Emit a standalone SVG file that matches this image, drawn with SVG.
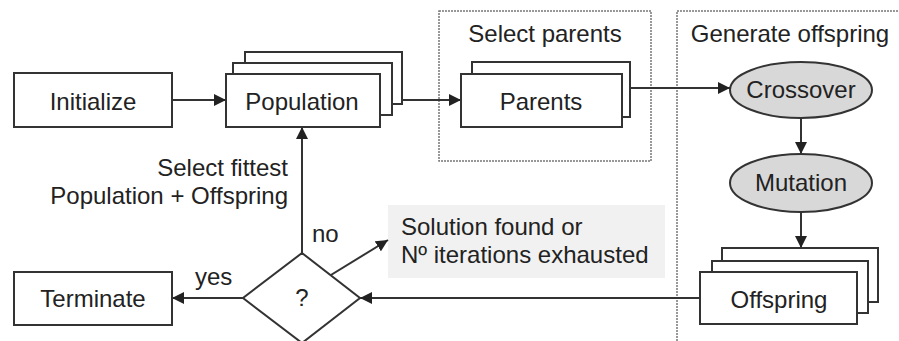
<svg xmlns="http://www.w3.org/2000/svg" width="899" height="341" viewBox="0 0 899 341">
<style>
text{font-family:"Liberation Sans",Arial,sans-serif;font-size:24px;fill:#222}
.c{text-anchor:middle}
.box{fill:#fff;stroke:#333;stroke-width:2}
.ell{fill:#d8d8d8;stroke:#333;stroke-width:2}
.grp{fill:none;stroke:#777;stroke-width:1.5;stroke-dasharray:2 1}
.ln{fill:none;stroke:#333;stroke-width:2}
</style>
<defs>
<marker id="ah" viewBox="0 0 10 10" refX="10" refY="5" markerWidth="6" markerHeight="6" orient="auto" markerUnits="strokeWidth">
<path d="M0,0 L10,5 L0,10 z" fill="#222"/>
</marker>
</defs>
<rect width="899" height="341" fill="#fff"/>
<g id="select-parents-group">
<rect class="grp" x="439" y="11" width="212" height="150"/>
<text class="c" x="545" y="42">Select parents</text>
</g>
<g id="generate-offspring-group">
<rect class="grp" x="677" y="11" width="240" height="345"/>
<text class="c" x="790" y="42">Generate offspring</text>
</g>
<g id="solution-note">
<rect x="388" y="205" width="277" height="73" fill="#f1f1f1"/>
<text x="401" y="235">Solution found or</text>
<text x="401" y="263">Nº iterations exhausted</text>
</g>
<g id="connectors">
<line class="ln" x1="172" y1="100" x2="226" y2="100" marker-end="url(#ah)"/>
<line class="ln" x1="402" y1="100" x2="461" y2="100" marker-end="url(#ah)"/>
<line class="ln" x1="630" y1="88" x2="730" y2="88" marker-end="url(#ah)"/>
<line class="ln" x1="801" y1="118" x2="801" y2="154" marker-end="url(#ah)"/>
<line class="ln" x1="801" y1="212" x2="801" y2="248" marker-end="url(#ah)"/>
<line class="ln" x1="700" y1="298" x2="360" y2="298" marker-end="url(#ah)"/>
<line class="ln" x1="243" y1="298" x2="172" y2="298" marker-end="url(#ah)"/>
<line class="ln" x1="302" y1="253" x2="302" y2="127" marker-end="url(#ah)"/>
<line class="ln" x1="313" y1="286" x2="388" y2="240" marker-end="url(#ah)"/>
<text x="288" y="176" text-anchor="end">Select fittest</text>
<text x="288" y="204" text-anchor="end">Population + Offspring</text>
<text x="312" y="242">no</text>
<text x="195" y="285">yes</text>
</g>
<g id="initialize">
<rect class="box" x="14" y="73" width="158" height="54"/>
<text class="c" x="93" y="110">Initialize</text>
</g>
<g id="population">
<rect class="box" x="245" y="52" width="157" height="52"/>
<rect class="box" x="233" y="63" width="159" height="52"/>
<rect class="box" x="226" y="74" width="154" height="53"/>
<text class="c" x="302" y="110">Population</text>
</g>
<g id="parents">
<rect class="box" x="472" y="62" width="158" height="55"/>
<rect class="box" x="461" y="74" width="161" height="53"/>
<text class="c" x="541" y="110">Parents</text>
</g>
<g id="crossover">
<ellipse class="ell" cx="801" cy="90" rx="71" ry="28"/>
<text class="c" x="801" y="98">Crossover</text>
</g>
<g id="mutation">
<ellipse class="ell" cx="801" cy="183" rx="71" ry="29"/>
<text class="c" x="801" y="191">Mutation</text>
</g>
<g id="offspring">
<rect class="box" x="722" y="248" width="156" height="54"/>
<rect class="box" x="712" y="261" width="156" height="52"/>
<rect class="box" x="700" y="272" width="157" height="52"/>
<text class="c" x="779" y="308">Offspring</text>
</g>
<g id="decision">
<polygon class="box" points="302,253 360,298 302,343 243,298"/>
<text class="c" x="302" y="306">?</text>
</g>
<g id="terminate">
<rect class="box" x="14" y="272" width="158" height="53"/>
<text class="c" x="93" y="307">Terminate</text>
</g>
</svg>
